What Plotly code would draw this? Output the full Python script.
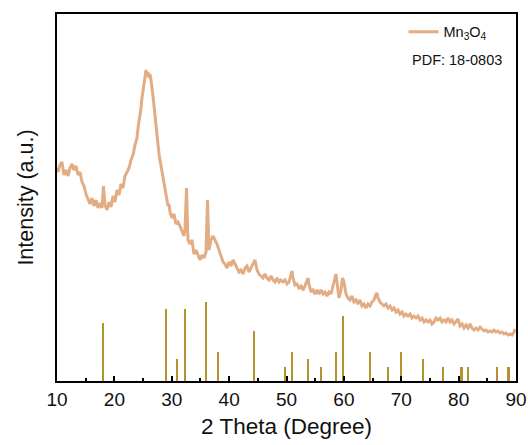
import plotly.graph_objects as go

# XRD pattern (2θ in degrees, intensity in a.u.)
two_theta = [10.0, 10.17, 10.52, 10.87, 11.22, 11.57, 11.92, 12.27, 12.61, 12.96, 13.31, 13.66, 14.01, 14.36, 14.71,
             15.05, 15.40, 15.75, 16.10, 16.45, 16.80, 17.15, 17.49, 17.84, 18.10, 18.37, 18.71, 19.06, 19.41, 19.76,
             20.11, 20.46, 20.81, 21.15, 21.50, 21.85, 22.20, 22.55, 22.90, 23.25, 23.59, 23.94, 24.12, 24.29, 24.47,
             24.64, 24.81, 24.99, 25.16, 25.34, 25.51, 25.69, 25.86, 26.03, 26.21, 26.38, 26.56, 26.73, 26.91, 27.08,
             27.25, 27.43, 27.60, 27.78, 27.95, 28.13, 28.30, 28.47, 28.65, 28.82, 29.00, 29.17, 29.35, 29.52, 29.69,
             30.04, 30.39, 30.74, 31.09, 31.44, 31.79, 32.13, 32.31, 32.57, 32.83, 33.18, 33.53, 33.88, 34.23, 34.58,
             34.92, 35.27, 35.62, 35.97, 36.23, 36.49, 36.84, 37.19, 37.54, 37.89, 38.24, 38.58, 38.93, 39.28, 39.63,
             39.98, 40.33, 40.68, 41.02, 41.37, 41.72, 42.07, 42.42, 42.77, 43.12, 43.46, 43.81, 44.16, 44.51, 44.86,
             45.21, 45.56, 45.90, 46.25, 46.60, 46.95, 47.30, 47.65, 48.00, 48.34, 48.69, 49.04, 49.39, 49.74, 50.09,
             50.44, 50.78, 50.96, 51.13, 51.48, 51.83, 52.18, 52.53, 52.88, 53.22, 53.57, 53.75, 53.92, 54.27, 54.62,
             54.97, 55.32, 55.66, 56.01, 56.36, 56.71, 57.06, 57.41, 57.76, 58.10, 58.45, 58.63, 58.80, 59.15, 59.50,
             59.76, 60.02, 60.37, 60.72, 61.07, 61.41, 61.76, 62.11, 62.46, 62.81, 63.16, 63.51, 63.85, 64.20, 64.55,
             64.90, 65.25, 65.60, 65.77, 65.95, 66.30, 66.64, 66.99, 67.34, 67.69, 68.04, 68.39, 68.74, 69.08, 69.43,
             69.78, 70.13, 70.48, 70.83, 71.18, 71.53, 71.87, 72.22, 72.57, 72.92, 73.27, 73.62, 73.97, 74.31, 74.66,
             75.01, 75.36, 75.71, 76.06, 76.41, 76.76, 77.10, 77.45, 77.80, 78.15, 78.50, 78.85, 79.20, 79.54, 79.89,
             80.24, 80.59, 80.94, 81.29, 81.64, 81.99, 82.33, 82.68, 83.03, 83.38, 83.73, 84.08, 84.43, 84.78, 85.12,
             85.47, 85.82, 86.17, 86.52, 86.87, 87.21, 87.56, 87.91, 88.26, 88.61, 88.96, 89.30, 89.65, 89.83]
intensity = [213, 209, 216, 219, 206, 211, 205, 213, 217, 211, 215, 206, 209, 199, 195,
             187, 182, 177, 183, 175, 181, 173, 178, 173, 195, 176, 171, 179, 174, 185,
             179, 191, 186, 197, 193, 205, 209, 213, 221, 226, 236, 243, 253, 259, 263,
             273, 283, 291, 297, 307, 311, 305, 309, 303, 307, 301, 295, 285, 275, 264,
             253, 243, 233, 227, 221, 215, 211, 205, 197, 191, 187, 181, 175, 177, 169,
             163, 167, 157, 159, 155, 149, 145, 151, 193, 141, 137, 141, 127, 131, 125,
             121, 126, 123, 129, 181, 131, 141, 145, 141, 137, 131, 125, 119, 117, 113,
             119, 115, 121, 117, 113, 109, 111, 107, 113, 115, 109, 113, 117, 121, 111,
             107, 105, 103, 107, 103, 101, 105, 101, 99, 103, 99, 101, 99, 101, 97,
             99, 105, 110, 103, 96, 97, 93, 95, 91, 95, 101, 103, 97, 89, 91,
             87, 91, 87, 91, 87, 89, 85, 89, 87, 95, 105, 107, 99, 83, 91,
             103, 99, 87, 83, 81, 85, 79, 81, 77, 81, 75, 77, 73, 77, 75,
             79, 81, 87, 88, 83, 79, 77, 75, 77, 73, 75, 71, 73, 69, 71,
             67, 69, 65, 67, 65, 67, 63, 65, 63, 65, 61, 63, 59, 61, 59,
             61, 57, 59, 63, 61, 63, 59, 61, 59, 63, 59, 61, 57, 59, 62,
             55, 57, 53, 56, 53, 57, 53, 51, 53, 51, 54, 52, 50, 51, 49,
             50, 49, 51, 49, 50, 48, 49, 47, 48, 46, 47, 46, 49, 52]

# Reference pattern PDF 18-0803 (stick positions and relative heights)
pdf_pos = [18.07, 28.94, 30.97, 32.37, 36.03, 38.06, 44.33, 49.74, 50.9, 53.8, 55.96, 58.6, 59.9,
           64.55, 67.7, 70.0, 73.8, 77.3, 80.5, 81.6, 86.7, 88.7]
pdf_height = [58, 72, 22, 72, 79, 29, 50, 14, 29, 22, 14, 29, 65,
              29, 14, 29, 22, 14, 14, 14, 14, 14]

curve_color = "#e2ad84"
stick_color = "#b5922f"

fig = go.Figure()
fig.add_trace(go.Bar(
    x=pdf_pos, y=pdf_height, width=0.38,
    marker=dict(color=stick_color, line=dict(width=0)),
    showlegend=False, hoverinfo="x+y",
))
fig.add_trace(go.Scatter(
    x=two_theta, y=intensity, mode="lines",
    line=dict(color=curve_color, width=3),
    name="Mn<sub>3</sub>O<sub>4</sub>",
))

font_family = "Liberation Sans, Arial, sans-serif"
fig.update_layout(
    width=528, height=445,
    margin=dict(l=57, r=12, t=14, b=64),
    paper_bgcolor="white", plot_bgcolor="white",
    font=dict(family=font_family, color="#111111"),
    showlegend=True,
    legend=dict(x=0.755, y=0.995, xanchor="left", yanchor="top",
                bgcolor="rgba(0,0,0,0)", font=dict(size=14.5, family=font_family)),
    bargap=0,
    xaxis=dict(
        range=[10, 90], tickmode="linear", tick0=10, dtick=10,
        ticks="inside", ticklen=5, tickwidth=1.5, tickcolor="black",
        minor=dict(ticks="inside", ticklen=3, tickwidth=1.5, dtick=5, tickcolor="black"),
        showline=True, linecolor="black", linewidth=1.5, mirror=True,
        showgrid=False, zeroline=False, automargin=False,
        tickfont=dict(size=19, family=font_family),
        title=dict(text="2 Theta (Degree)", font=dict(size=22.5, family=font_family), standoff=10),
    ),
    yaxis=dict(
        range=[0, 367], showticklabels=False, ticks="",
        showline=True, linecolor="black", linewidth=1.5, mirror=True,
        showgrid=False, zeroline=False, automargin=False,
        title=dict(text="Intensity (a.u.)", font=dict(size=21.5, family=font_family), standoff=16),
    ),
    annotations=[dict(text="PDF: 18-0803", x=0.871, y=0.875, xref="paper", yref="paper",
                      xanchor="center", yanchor="middle",
                      showarrow=False, font=dict(size=14.5, family=font_family))],
)
fig.write_html("out.html", config={"displayModeBar": False},
               post_script="document.body.style.margin='0';")
